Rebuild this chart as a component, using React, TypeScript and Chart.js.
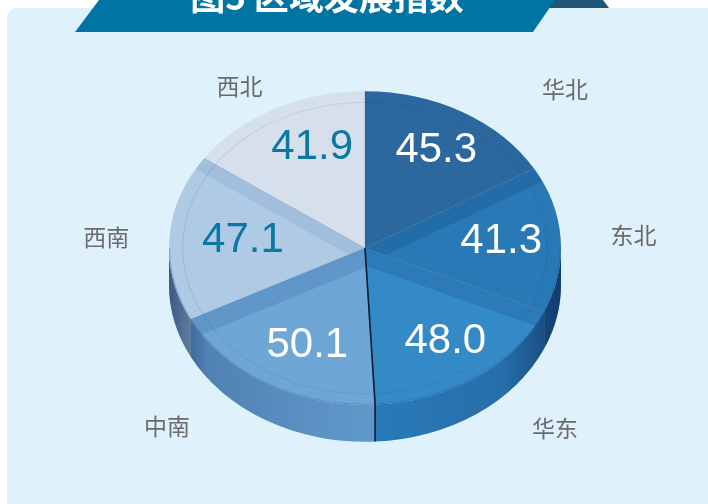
import React, { useEffect, useRef } from 'react';
import { Chart, registerables } from 'chart.js';

Chart.register(...registerables);

// ---- data ----
const REGIONS = ['华北', '东北', '华东', '中南', '西南', '西北'];
const VALUES = [45.3, 41.3, 48.0, 50.1, 47.1, 41.9];
const VALUE_LABELS = ['45.3', '41.3', '48.0', '50.1', '47.1', '41.9'];
const TITLE = '图5 区域发展指数';

// ---- style ----
const TOP_COLORS = ['#2c679e', '#2879b5', '#348ac6', '#6ea7d6', '#aecae5', '#d6e0ec'];
const SIDE_COLORS = ['#1f5488', '#1f69a6', '#2a7ab8', '#6098cb', '#8fb2d6', '#b5c6da'];
// bevel band along the upper edge of a slice: [alpha, use end edge (1) or start edge (0), width]
const BEVEL: [number, number, number][] = [
  [0, 0, 0],
  [0.16, 0, 18],
  [0.16, 0, 20],
  [0.13, 1, 22],
  [0.07, 1, 16],
  [0, 0, 0],
];
const VALUE_COLORS = ['#ffffff', '#ffffff', '#ffffff', '#ffffff', '#0a78a3', '#0a78a3'];
// category label anchor, in multiples of the pie radius (x) / squashed radius (y)
const NAME_POS: [number, number][] = [
  [1.02, -1.01],
  [1.37, -0.08],
  [0.97, 1.15],
  [-1.01, 1.14],
  [-1.32, -0.07],
  [-0.64, -1.03],
];
const SY = 0.80; // vertical squash of the pie (tilt)
const DEPTH = 37; // side thickness in px
const VALUE_R = 0.66;
const VALUE_DX = 7;

const pie3d = {
  id: 'pie3d',
  beforeDraw(chart: any) {
    const ctx = chart.ctx as CanvasRenderingContext2D;
    const W = chart.width;
    const H = chart.height;
    ctx.save();
    ctx.fillStyle = '#ffffff';
    ctx.fillRect(0, 0, W, H);
    // panel
    ctx.fillStyle = '#dff2fb';
    ctx.beginPath();
    (ctx as any).roundRect(7, 8, W + 20, H + 20, 9);
    ctx.fill();
    // dark piece behind banner
    ctx.fillStyle = '#1f5679';
    ctx.beginPath();
    ctx.moveTo(520, 0);
    ctx.lineTo(603, 0);
    ctx.lineTo(609, 8);
    ctx.lineTo(520, 8);
    ctx.closePath();
    ctx.fill();
    // banner
    ctx.fillStyle = '#0075a3';
    ctx.beginPath();
    ctx.moveTo(99, 0);
    ctx.lineTo(555, 0);
    ctx.lineTo(533, 32);
    ctx.lineTo(75, 32);
    ctx.closePath();
    ctx.fill();
    // title (mostly cut off at top)
    ctx.fillStyle = '#ffffff';
    ctx.font = 'bold 35px "Noto Sans CJK SC", sans-serif';
    ctx.textAlign = 'center';
    ctx.textBaseline = 'alphabetic';
    ctx.fillText(TITLE, 327, 10);
    ctx.restore();
  },
  beforeDatasetsDraw(chart: any) {
    const ctx = chart.ctx as CanvasRenderingContext2D;
    const arcs = chart.getDatasetMeta(0).data;
    if (!arcs.length) return;
    const { x: cx, y: cy, outerRadius: r } = arcs[0].getProps(['x', 'y', 'outerRadius'], true);
    ctx.save();
    ctx.translate(cx, cy);
    ctx.scale(1, SY);
    ctx.translate(-cx, -cy);
    const D = DEPTH / SY;
    // side walls
    arcs.forEach((a: any, i: number) => {
      const p = a.getProps(['startAngle', 'endAngle'], true);
      const s = Math.max(p.startAngle, 0);
      const e = Math.min(p.endAngle, Math.PI);
      if (e <= s) return;
      ctx.beginPath();
      ctx.arc(cx, cy, r, s, e);
      ctx.arc(cx, cy + D, r, e, s, true);
      ctx.closePath();
      ctx.fillStyle = SIDE_COLORS[i];
      ctx.fill();
    });
    // shading on the side wall
    const g = ctx.createLinearGradient(cx - r, 0, cx + r, 0);
    g.addColorStop(0, 'rgba(10,30,70,0.6)');
    g.addColorStop(0.1, 'rgba(10,30,70,0.18)');
    g.addColorStop(0.5, 'rgba(10,30,70,0.0)');
    g.addColorStop(0.85, 'rgba(10,30,70,0.12)');
    g.addColorStop(1, 'rgba(10,30,70,0.6)');
    ctx.beginPath();
    ctx.arc(cx, cy, r, 0, Math.PI);
    ctx.arc(cx, cy + D, r, Math.PI, 0, true);
    ctx.closePath();
    ctx.fillStyle = g;
    ctx.fill();
    // the library now draws the top faces in this squashed space
  },
  afterDatasetsDraw(chart: any) {
    const ctx = chart.ctx as CanvasRenderingContext2D;
    const arcs = chart.getDatasetMeta(0).data;
    if (!arcs.length) return;
    const { x: cx, y: cy, outerRadius: r } = arcs[0].getProps(['x', 'y', 'outerRadius'], true);
    // bevel bands along the upper edge of some slices
    arcs.forEach((a: any, i: number) => {
      const [alpha, useEnd, w] = BEVEL[i];
      if (!alpha) return;
      const p = a.getProps(['startAngle', 'endAngle'], true);
      const th = useEnd ? p.endAngle : p.startAngle;
      const sgn = useEnd ? -1 : 1;
      const ux = Math.cos(th), uy = Math.sin(th);
      const nx = -uy * sgn, ny = ux * sgn;
      ctx.save();
      ctx.beginPath();
      ctx.moveTo(cx, cy);
      ctx.arc(cx, cy, r, p.startAngle, p.endAngle);
      ctx.closePath();
      ctx.clip();
      ctx.beginPath();
      ctx.moveTo(cx, cy);
      ctx.lineTo(cx + ux * 2 * r, cy + uy * 2 * r);
      ctx.lineTo(cx + ux * 2 * r + nx * w, cy + uy * 2 * r + ny * w);
      ctx.lineTo(cx + nx * w, cy + ny * w);
      ctx.closePath();
      ctx.fillStyle = `rgba(5,45,110,${alpha})`;
      ctx.fill();
      ctx.restore();
    });
    // rim line + inner ring on the squashed top face
    ctx.strokeStyle = 'rgba(20,60,110,0.25)';
    ctx.lineWidth = 1.2;
    ctx.beginPath();
    ctx.arc(cx, cy, r - 0.5, 0, Math.PI);
    ctx.stroke();
    ctx.strokeStyle = 'rgba(20,60,110,0.10)';
    ctx.beginPath();
    ctx.arc(cx, cy, r * 0.93, 0, Math.PI * 2);
    ctx.stroke();
    // slice edges
    arcs.forEach((a: any) => {
      const p = a.getProps(['startAngle'], true);
      ctx.beginPath();
      ctx.moveTo(cx, cy);
      ctx.lineTo(cx + Math.cos(p.startAngle) * r, cy + Math.sin(p.startAngle) * r);
      ctx.strokeStyle = 'rgba(20,50,100,0.18)';
      ctx.lineWidth = 1;
      ctx.stroke();
    });
    // dark seam between 华东 and 中南
    const seam = arcs[3].getProps(['startAngle'], true).startAngle;
    const ex = cx + Math.cos(seam) * r;
    const ey = cy + Math.sin(seam) * r;
    ctx.beginPath();
    ctx.moveTo(cx, cy);
    ctx.lineTo(ex, ey);
    ctx.lineTo(ex, ey + DEPTH / SY);
    ctx.strokeStyle = '#0b1b33';
    ctx.lineWidth = 1.6;
    ctx.stroke();
    ctx.restore();

    // labels (screen space)
    ctx.save();
    ctx.textAlign = 'center';
    ctx.textBaseline = 'middle';
    arcs.forEach((a: any, i: number) => {
      const p = a.getProps(['startAngle', 'endAngle'], true);
      const mid = (p.startAngle + p.endAngle) / 2;
      const vx = cx + VALUE_DX + Math.cos(mid) * r * VALUE_R;
      const vy = cy + Math.sin(mid) * r * SY * 0.72;
      ctx.font = '42px "Liberation Sans", Arial, sans-serif';
      ctx.fillStyle = VALUE_COLORS[i];
      ctx.fillText(VALUE_LABELS[i], vx, vy);
      const nx = cx + NAME_POS[i][0] * r;
      const ny = cy + NAME_POS[i][1] * r * SY;
      ctx.font = '23px "Noto Sans CJK SC", sans-serif';
      ctx.fillStyle = '#6b6b6b';
      ctx.fillText(REGIONS[i], nx, ny);
    });
    ctx.restore();
  },
};

export default function App() {
  const ref = useRef<HTMLCanvasElement | null>(null);
  useEffect(() => {
    if (!ref.current) return;
    const chart = new Chart(ref.current, {
      type: 'pie',
      data: {
        labels: REGIONS,
        datasets: [
          {
            data: VALUES,
            backgroundColor: TOP_COLORS,
            borderWidth: 0,
            clip: false as any,
          },
        ],
      },
      options: {
        responsive: false,
        animation: false,
        events: [],
        layout: { padding: { left: 100, right: 78, top: 52, bottom: 60 } },
        plugins: { legend: { display: false }, tooltip: { enabled: false } },
      },
      plugins: [pie3d],
    });
    return () => chart.destroy();
  }, []);
  return (
    <div style={{ position: 'absolute', left: 0, top: 0, width: 708, height: 504, overflow: 'hidden' }}>
      <canvas ref={ref} width={708} height={504} style={{ display: 'block' }} />
    </div>
  );
}
